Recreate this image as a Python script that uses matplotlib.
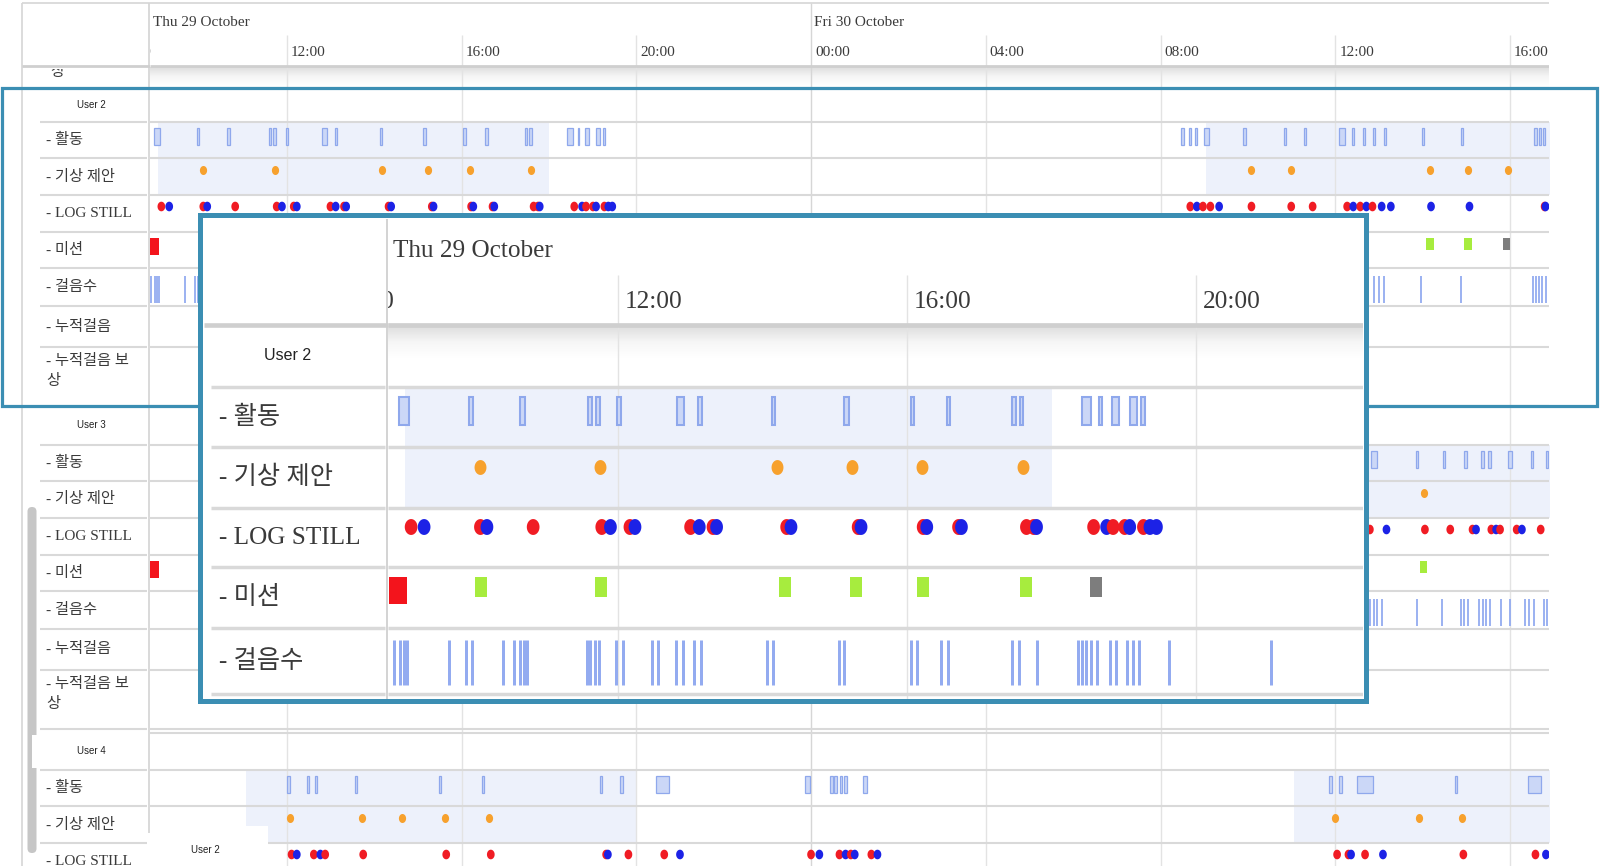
import numpy as np
import matplotlib.pyplot as plt
from matplotlib.path import Path
from matplotlib.patches import Rectangle, FancyBboxPatch
from matplotlib.colors import LinearSegmentedColormap

# time is in hours counted from Thu 29 October 00:00
hour_ticks = [8, 12, 16, 20, 24, 28, 32, 36, 40]
tick_labels = ['08:00', '12:00', '16:00', '20:00', '00:00', '04:00', '08:00', '12:00', '16:00']
day_starts = [0, 24]
day_labels = ['Thu 29 October', 'Fri 30 October']
row_labels = ['- 활동', '- 기상 제안', '- LOG STILL', '- 미션', '- 걸음수', '- 누적걸음', '- 누적걸음 보\n상']
user_names = ['User 2', 'User 3', 'User 4']

# ---- User 2 ----
u2_shade = [(9.05, 18.0), (33.05, 41.0)]
u2_act_t = [9.03, 9.96, 10.67, 11.61, 11.72, 12.01, 12.86, 13.13, 14.15, 15.16,
            16.07, 16.57, 17.48, 17.58, 18.48, 18.68, 18.88, 19.13, 19.26,
            32.50, 32.68, 32.81, 33.05, 33.93, 34.84, 35.31, 36.15, 36.41, 36.65,
            36.88, 37.14, 38.01, 38.90, 40.58, 40.68, 40.77]
u2_act_w = [0.13, 0.05, 0.07, 0.05, 0.05, 0.05, 0.10, 0.05, 0.05, 0.07,
            0.05, 0.05, 0.05, 0.05, 0.13, 0.04, 0.09, 0.09, 0.05,
            0.05, 0.05, 0.05, 0.13, 0.07, 0.05, 0.05, 0.12, 0.05, 0.05,
            0.05, 0.05, 0.05, 0.05, 0.05, 0.05, 0.05]
u2_wake = [10.08, 11.74, 14.19, 15.24, 16.20, 17.60, 34.06, 34.98, 38.17, 39.04, 39.95]
u2_log_t = [9.13, 9.31, 10.09, 10.18, 10.82, 11.77, 11.89, 12.16, 12.23, 13.00,
            13.12, 13.31, 13.36, 14.33, 14.39, 15.32, 15.36, 16.22, 16.27, 16.71,
            16.75, 17.65, 17.75, 17.79, 18.58, 18.76, 18.85, 19.01, 19.08, 19.27,
            19.36, 19.45,
            32.68, 32.83, 32.97, 33.14, 33.34, 34.08, 34.99, 35.48, 36.27, 36.41,
            36.57, 36.71, 36.85, 37.06, 37.27, 38.19, 39.07, 40.79, 40.81]
u2_log_c = list('rbrbrrbrbrbrbrbrbrbrb' 'rrbrbrrbrbb' 'rbrrbrrrrbrbrbbbbrb')
u2_mis_t = [8.95, 10.10, 11.76, 14.31, 15.29, 16.22, 17.64, 18.61, 38.17, 39.04, 39.92]
u2_mis_k = ['r', 'g', 'g', 'g', 'g', 'g', 'g', 'k', 'g', 'g', 'k']
u2_steps = [8.90, 8.98, 9.03, 9.08, 9.66, 9.89, 9.98, 10.40, 10.56, 10.64, 10.70, 10.74,
            11.56, 11.61, 11.67, 11.73, 11.96, 12.06, 12.47, 12.55, 12.80, 12.89,
            13.05, 13.15, 14.06, 14.14, 15.05, 15.13, 16.05, 16.14, 16.47, 16.56,
            17.45, 17.55, 17.79, 18.37, 18.42, 18.48, 18.54, 18.63, 18.80, 18.89,
            19.04, 19.12, 19.21, 19.62, 21.04,
            36.88, 37.00, 37.11, 37.96, 38.87, 40.53, 40.60, 40.67, 40.74, 40.81]

# ---- User 3 ----
u3_shade = [(33.0, 41.0)]
u3_act_t = [36.88, 37.87, 38.48, 38.98, 39.37, 39.53, 40.00, 40.50, 40.85]
u3_act_w = [0.13, 0.05, 0.05, 0.05, 0.05, 0.05, 0.09, 0.05, 0.05]
u3_wake = [38.02]
u3_log_t = [36.79, 37.17, 38.05, 38.63, 39.14, 39.22, 39.57, 39.68, 39.77, 40.15, 40.27, 40.70]
u3_log_c = list('rbrrrbrbrrbr')
u3_mis_t = [8.95, 38.02]
u3_mis_k = ['r', 'g']
u3_steps = [36.80, 36.88, 36.96, 37.06, 37.87, 38.43, 38.87, 38.95, 39.04, 39.28,
            39.37, 39.45, 39.54, 39.80, 40.00, 40.35, 40.44, 40.54, 40.77, 40.85]

# ---- User 4 ----
u4_shade = [(11.07, 20.0), (35.05, 41.0)]
u4_act_t = [12.03, 12.48, 12.67, 13.58, 15.50, 16.50, 19.19, 19.66, 20.61,
            23.92, 24.47, 24.56, 24.68, 24.79, 25.24, 35.89, 36.12, 36.68, 38.77, 40.56]
u4_act_w = [0.07, 0.05, 0.05, 0.05, 0.05, 0.05, 0.05, 0.05, 0.30,
            0.10, 0.05, 0.05, 0.05, 0.05, 0.10, 0.05, 0.05, 0.35, 0.05, 0.28]
u4_wake = [12.07, 13.72, 14.64, 15.63, 16.64, 36.00, 37.91, 38.90]
u4_log_t = [12.11, 12.23, 12.62, 12.77, 12.88, 13.75, 15.65, 16.67, 19.31, 19.35,
            19.82, 20.64, 21.00, 24.00, 24.19, 24.65, 24.79, 24.91, 25.00, 25.38,
            25.52, 36.04, 36.30, 36.36, 36.68, 37.09, 38.93, 40.58, 40.82]
u4_log_c = list('rbrbrrrrrbrrbrbrbrbrbrrbrbrrb')
u4_mis_t = []
u4_mis_k = []
u4_steps = []

W, H = 1600, 866
SERIF = 'Liberation Serif'
MIXED = ['Liberation Serif', 'Noto Sans CJK KR']
SANS = 'Liberation Sans'
TEAL = '#3b8eb3'
GRID = '#e3e3e3'
SEP = '#d9d9d9'
TXT = '#3a3a3a'
SHADE = '#edf1fb'
ACT_FACE, ACT_EDGE = '#cbd7f7', '#8fa8ec'
STEP = '#93abf0'
ORANGE = '#f7a12d'
LOG_COL = {'r': '#f01c24', 'b': '#1c22e6'}
MIS_COL = {'r': '#f3141c', 'g': '#a7ec3e', 'k': '#7d7d7d'}

theta = np.linspace(0, 2 * np.pi, 48)
DOT = Path(np.column_stack([0.8 * np.cos(theta), np.sin(theta)]), closed=True)
hdr_cmap = LinearSegmentedColormap.from_list('hdr', ['#dedede', '#f6f6f6', '#ffffff'])

fig = plt.figure(figsize=(W / 100, H / 100), dpi=100)
fig.patch.set_facecolor('white')


def pxax(x0, y0, x1, y1):
    a = fig.add_axes([x0 / W, 1 - y1 / H, (x1 - x0) / W, (y1 - y0) / H])
    a.set_xlim(x0, x1)
    a.set_ylim(y1, y0)
    a.axis('off')
    return a


def timeax(x0, y0, x1, y1, hr):
    a = fig.add_axes([x0 / W, 1 - y1 / H, (x1 - x0) / W, (y1 - y0) / H])
    a.set_xlim(*hr)
    a.set_ylim(y1, y0)
    a.axis('off')
    return a


def draw_frame(a, s, y_top, y_date, y_time, y_grid, y_head):
    h0, h1 = a.get_xlim()
    y_bot = a.get_ylim()[0]
    off = 4 / 43.69
    for t, lab in zip(hour_ticks, tick_labels):
        top = y_top if t % 24 == 0 else y_grid
        a.vlines(t, top, y_bot, color='#d6d6d6' if t % 24 == 0 else GRID, lw=1.0, zorder=1)
        a.text(t + off, y_time, lab, ha='left', va='center', fontsize=11 * s,
               family=SERIF, color=TXT, clip_on=True)
    for t, lab in zip(day_starts, day_labels):
        a.text(max(t, h0) + off * 0.7, y_date, lab, ha='left', va='center',
               fontsize=11 * s, family=SERIF, color=TXT, clip_on=True)
    a.hlines(y_head, h0, h1, color='#cfcfcf', lw=2.0 * s, zorder=2)
    a.imshow(np.linspace(0, 1, 40)[:, None], extent=(h0, h1, y_head + 20 * s, y_head + 1.5),
             aspect='auto', cmap=hdr_cmap, zorder=0.3, interpolation='bilinear')
    a.set_xlim(h0, h1)


def draw_user(a, s, top, head, rows, shade, act_t, act_w, wake, log_t, log_c,
              mis_t, mis_k, steps):
    h0, h1 = a.get_xlim()
    b = top + head + np.concatenate([[0], np.cumsum(rows)])
    for a0, a1 in shade:
        a.fill_between([a0, min(a1, h1 + 1)], b[0], b[2], color=SHADE, lw=0, zorder=0.5)
    a.hlines(np.concatenate([[top], b]), h0, h1, color=SEP, lw=1.5 * s, zorder=1.5)
    yc = b[0] + 14.5 * s
    a.bar(act_t, 17 * s, width=act_w, bottom=yc - 8.5 * s, color=ACT_FACE,
          edgecolor=ACT_EDGE, linewidth=0.9 * s, zorder=3)
    if wake:
        a.scatter(wake, np.full(len(wake), b[1] + 12 * s), s=42 * s ** 2, marker=DOT,
                  color=ORANGE, linewidths=0, zorder=4)
    if log_t:
        a.scatter(log_t, np.full(len(log_t), b[2] + 11.5 * s), s=48 * s ** 2, marker=DOT,
                  c=[LOG_COL[k] for k in log_c], linewidths=0, zorder=4)
    if mis_t:
        hts = [16.5 * s if k == 'r' else 12 * s for k in mis_k]
        wds = [0.26 if k == 'r' else 0.17 for k in mis_k]
        a.bar(mis_t, hts, width=wds, bottom=b[3] + 6 * s,
              color=[MIS_COL[k] for k in mis_k], zorder=3)
    if steps:
        ys = b[4] + 21 * s
        a.vlines(steps, ys - 13.5 * s, ys + 13.5 * s, color=STEP, lw=1.3 * s, zorder=3)


def draw_panel(p, s, top, head, rows, user, x_cell, x_end, x_text, x_user, n_rows):
    b = top + head + np.concatenate([[0], np.cumsum(rows)])
    p.hlines(b[:n_rows + 1], x_cell, x_end, color=SEP, lw=1.5 * s, zorder=2)
    p.text(x_user, top + head / 2, user, ha='center', va='center',
           fontsize=7 * s, family=SANS, color='#222222', zorder=5)
    for i, lab in enumerate(row_labels[:n_rows]):
        if '\n' in lab:
            p.text(x_text, b[i] + 7 * s, lab, ha='left', va='top', linespacing=1.55,
                   fontsize=11 * s, family=MIXED, color=TXT, zorder=5)
        else:
            p.text(x_text, (b[i] + b[i + 1]) / 2, lab, ha='left', va='center',
                   fontsize=11 * s, family=MIXED, color=TXT, zorder=5)


ROW_H = [36, 37, 37, 36, 38, 41, 59]
block_tops = [88, 406, 733]
head_h = [34, 39, 37]
user_data = [
    (u2_shade, u2_act_t, u2_act_w, u2_wake, u2_log_t, u2_log_c, u2_mis_t, u2_mis_k, u2_steps),
    (u3_shade, u3_act_t, u3_act_w, u3_wake, u3_log_t, u3_log_c, u3_mis_t, u3_mis_k, u3_steps),
    (u4_shade, u4_act_t, u4_act_w, u4_wake, u4_log_t, u4_log_c, u4_mis_t, u4_mis_k, u4_steps),
]

# ---------------- main timeline ----------------
ax = timeax(150, 0, 1549, 866, (8.87, 40.89))
draw_frame(ax, 1.0, 3, 23, 53, 35, 66)
ax.hlines(3, 8.87, 40.89, color='#d6d6d6', lw=1.2)
for top, hh, d in zip(block_tops, head_h, user_data):
    draw_user(ax, 1.0, top, hh, ROW_H, *d)
ax.set_xlim(8.87, 40.89)
ax.set_ylim(866, 0)

# ---------------- main label column ----------------
axl = pxax(0, 0, 150, 866)
axl.vlines(22, 3, 866, color='#d6d6d6', lw=1.2)
axl.vlines(148.5, 3, 833, color='#d3d3d3', lw=1.2)
axl.hlines(3, 22, 150, color='#d6d6d6', lw=1.2)
axl.hlines(66, 22, 150, color='#cfcfcf', lw=2.0)
axl.hlines(88, 40, 147, color=SEP, lw=1.5)
rem = axl.text(50, 79, '상', ha='left', va='bottom', fontsize=11, family=MIXED,
               color=TXT, clip_on=True)
rem.set_clip_path(Rectangle((22, 69), 128, 18, transform=axl.transData))
axl.add_patch(FancyBboxPatch((27.5, 507), 9, 346, boxstyle='round,pad=0,rounding_size=4.5',
                             fc='#c6c6c6', ec='none', zorder=1))
axl.add_patch(Rectangle((32, 735), 116, 33, fc='white', ec='none', zorder=1.5))
for top, hh, name in zip(block_tops, head_h, user_names):
    draw_panel(axl, 1.0, top, hh, ROW_H, name, 40, 147, 46, 91, 7)

# ---------------- overlay on main ----------------
ov = pxax(0, 0, 1600, 866)
ov.add_patch(Rectangle((1.5, 88), 1595, 318, fill=False, ec=TEAL, lw=2.3))
ov.add_patch(Rectangle((150, 826), 118, 40, fc='white', ec='none'))
ov.text(205, 850, 'User 2', ha='center', va='center', fontsize=7, family=SANS, color='#222222')

# ---------------- magnified inset ----------------
S = 72.2 / 43.69
IN_TOP, IN_HEAD = 325, 62
IN_ROWS = [60, 61, 59, 61, 66]
ia = pxax(200, 215, 1366, 701)
ia.add_patch(Rectangle((200, 215), 1166, 486, fc='white', ec='none', zorder=0))
ia.vlines(387, 219, 699, color='#d3d3d3', lw=1.4)
ia.hlines(IN_TOP, 204, 388, color='#cfcfcf', lw=2.0 * S)
draw_panel(ia, S, IN_TOP, IN_HEAD, IN_ROWS, user_names[0], 211, 385, 219, 288, 5)

iax = timeax(388, 219, 1363, 699, (8.81, 22.31))
draw_frame(iax, S, 219, 251, 302, 275, IN_TOP)
draw_user(iax, S, IN_TOP, IN_HEAD, IN_ROWS, *user_data[0])
iax.set_xlim(8.81, 22.31)
iax.set_ylim(699, 219)

ov2 = pxax(0, 0, 1600, 866)
ov2.add_patch(Rectangle((200, 215), 1166, 486, fill=False, ec=TEAL, lw=3.6))

fig.savefig('out.png', dpi=100)
